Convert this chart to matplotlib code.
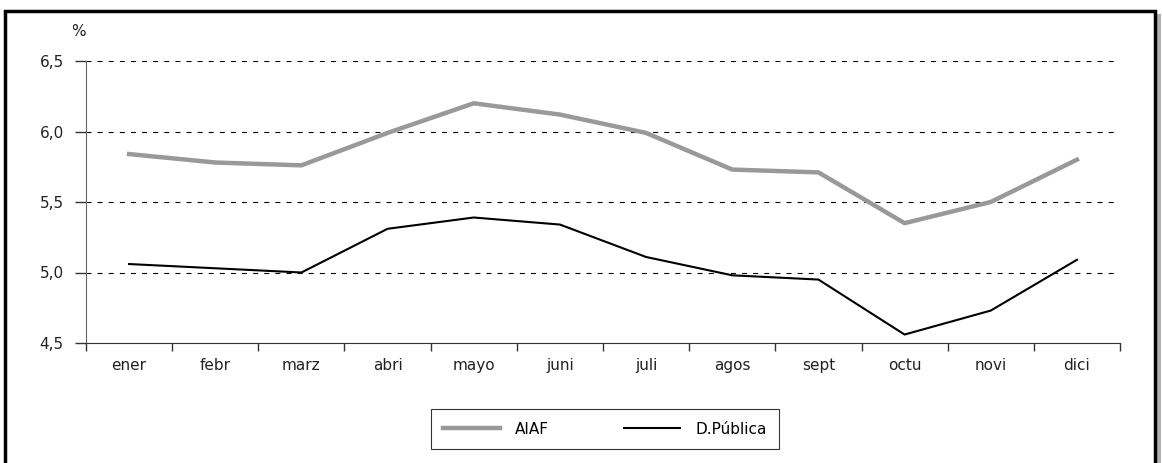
import numpy as np
import matplotlib
matplotlib.use("Agg")
import matplotlib.pyplot as plt
from matplotlib.patches import Rectangle

meses = ["ener", "febr", "marz", "abri", "mayo", "juni", "juli", "agos", "sept", "octu", "novi", "dici"]
aiaf = [5.84, 5.78, 5.76, 5.99, 6.20, 6.12, 5.99, 5.73, 5.71, 5.35, 5.50, 5.80]
dpublica = [5.06, 5.03, 5.00, 5.31, 5.39, 5.34, 5.11, 4.98, 4.95, 4.56, 4.73, 5.09]
yticks = [4.5, 5.0, 5.5, 6.0, 6.5]
ytick_labels = ["4,5", "5,0", "5,5", "6,0", "6,5"]

plt.rcParams['font.family'] = ['DejaVu Sans']

W, H = 1162, 463
fig = plt.figure(figsize=(W / 100, H / 100), dpi=100)

# outer frame with shadow on the right
fig.patches.append(Rectangle((1157 / W, -0.05), 4 / W, 1 - 14 / H + 0.05,
                             transform=fig.transFigure, facecolor="#b0b0b0",
                             edgecolor="none", zorder=-3))
fig.patches.append(Rectangle((5 / W, -0.05), 1150 / W, 1 - 11 / H + 0.05,
                             transform=fig.transFigure, facecolor="white",
                             edgecolor="black", linewidth=2.5, zorder=-2))

ax = fig.add_axes([86 / W, 1 - 343 / H, (1120 - 86) / W, (343 - 61) / H])
ax.set_facecolor("none")

x = np.arange(len(meses))
ax.plot(x, aiaf, color="#999999", linewidth=3.2, label="AIAF", zorder=3)
ax.plot(x, dpublica, color="black", linewidth=1.5, label="D.Pública", zorder=4)

ax.set_xlim(-0.5, len(meses) - 0.5)
ax.set_ylim(4.5, 6.5)

# dashed gridlines stop a little before the right end
for v in yticks[1:]:
    ax.plot([-0.5, 11.46], [v, v], color="black", linestyle=(0, (4.5, 5.5)),
            linewidth=0.8, zorder=1)

ax.set_yticks(yticks)
ax.set_yticklabels(ytick_labels, fontsize=11, color="#222222")
ax.set_xticks(x)
ax.set_xticklabels(meses, fontsize=11, color="#222222")
ax.set_xticks(np.arange(-0.5, len(meses)), minor=True)
ax.tick_params(axis="x", which="major", length=0, pad=11)
ax.tick_params(axis="x", which="minor", length=6, color="#333333", width=1)
ax.tick_params(axis="y", length=8, color="#333333", width=1, pad=8)

for s in ["top", "right"]:
    ax.spines[s].set_visible(False)
ax.spines["left"].set_color("#666666")
ax.spines["bottom"].set_color("#333333")

fig.text(78 / W, 1 - 32 / H, "%", fontsize=11, ha="center", va="center", color="#222222")

leg = fig.legend(loc="center", bbox_to_anchor=(605 / W, 1 - 429 / H), ncol=2,
                 fontsize=11, frameon=True, fancybox=False, handlelength=3.7,
                 columnspacing=4.9, borderpad=0.8, handletextpad=1.0)
leg.get_frame().set_edgecolor("black")
leg.get_frame().set_linewidth(0.8)

fig.savefig("out.png", dpi=100)
